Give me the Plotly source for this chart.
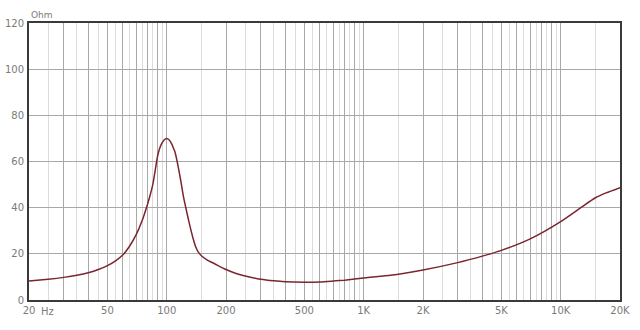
import math
import plotly.graph_objects as go

# ---- data ----
freq_hz = [20, 25, 30, 35, 40, 45, 50, 55, 60, 65, 70, 75, 80, 82.5, 85, 87, 88.5, 90, 92, 94, 97, 100,
           103, 106, 108, 110, 113, 116, 118.5, 121.5, 125, 130, 136.5, 140, 145, 150, 160, 175,
           200, 225, 250, 300, 350, 400, 500, 600, 700, 800, 1000, 1500, 2000, 3000, 4000, 5000,
           7000, 10000, 12500, 15000, 17000, 20000]
impedance_ohm = [8.2, 9.0, 9.8, 10.7, 11.8, 13.2, 14.9, 17.0, 19.6, 23.5, 28.3, 34.3, 41.6, 45.6, 50.0, 55.0, 59.0, 62.5, 65.5, 67.5, 69.3, 70.0,
                 69.3, 67.6, 66.0, 64.3, 60.0, 55.0, 50.5, 45.0, 40.0, 33.5, 26.3, 23.3, 20.6, 19.2, 17.4, 15.7,
                 13.2, 11.5, 10.4, 9.0, 8.3, 7.9, 7.7, 7.8, 8.2, 8.6, 9.5, 11.2, 13.0, 16.2, 19.0, 21.5,
                 26.5, 34.0, 39.7, 44.3, 46.4, 48.7]

major_grid = [20, 30, 40, 50, 60, 70, 80, 90,
              100, 200, 300, 400, 500, 600, 700, 800, 900,
              1000, 2000, 3000, 4000, 5000, 6000, 7000, 8000, 9000,
              10000, 20000]
major_labels = {20: "20", 50: "50", 100: "100", 200: "200", 500: "500",
                1000: "1K", 2000: "2K", 5000: "5K", 10000: "10K", 20000: "20K"}
minor_grid = [25, 35, 45, 55, 65, 75, 85, 95,
              150, 250, 350, 450, 550, 650, 750, 850, 950,
              1500, 2500, 3500, 4500, 5500, 6500, 7500, 8500, 9500,
              15000]
y_ticks = [0, 20, 40, 60, 80, 100, 120]
y_unit = "Ohm"
x_unit = "Hz"

f_min, f_max = 20, 20000

fig = go.Figure()
fig.add_trace(go.Scatter(
    x=freq_hz, y=impedance_ohm, mode="lines",
    line=dict(color="#7a2630", width=1.5, shape="spline", smoothing=0.6),
    hoverinfo="skip", showlegend=False))

font_family = "DejaVu Sans, Verdana, sans-serif"
tick_font = dict(family=font_family, size=10, color="#7a7a7a")

fig.update_layout(
    width=640, height=330,
    margin=dict(l=29, r=20, t=23, b=30, autoexpand=False),
    paper_bgcolor="white", plot_bgcolor="white",
    xaxis=dict(
        type="log", range=[math.log10(f_min), math.log10(f_max)],
        tickmode="array", tickvals=major_grid,
        ticktext=[major_labels.get(v, "") for v in major_grid],
        showgrid=True, gridcolor="#a8a8a8", gridwidth=1,
        minor=dict(tickmode="array", tickvals=minor_grid, showgrid=True,
                   gridcolor="#dcdcdc", gridwidth=1),
        showline=True, linecolor="#3a3a3a", linewidth=2, mirror=True,
        ticks="", tickfont=tick_font, zeroline=False, automargin=False,
    ),
    yaxis=dict(
        range=[0, 120], tickmode="array", tickvals=y_ticks,
        showgrid=True, gridcolor="#a8a8a8", gridwidth=1,
        showline=True, linecolor="#3a3a3a", linewidth=2, mirror=True,
        ticks="", tickfont=tick_font, zeroline=False, ticklabelstandoff=1,
        automargin=False,
    ),
    annotations=[
        dict(text=y_unit, xref="paper", yref="paper", x=0, y=1,
             xanchor="left", yanchor="bottom", yshift=1, showarrow=False,
             font=dict(family=font_family, size=9, color="#7a7a7a")),
        dict(text=x_unit, xref="x", yref="paper", x=math.log10(f_min), y=0,
             xanchor="left", yanchor="top", xshift=10, yshift=-4, showarrow=False,
             font=tick_font),
    ],
)

fig.write_html("out.html")
